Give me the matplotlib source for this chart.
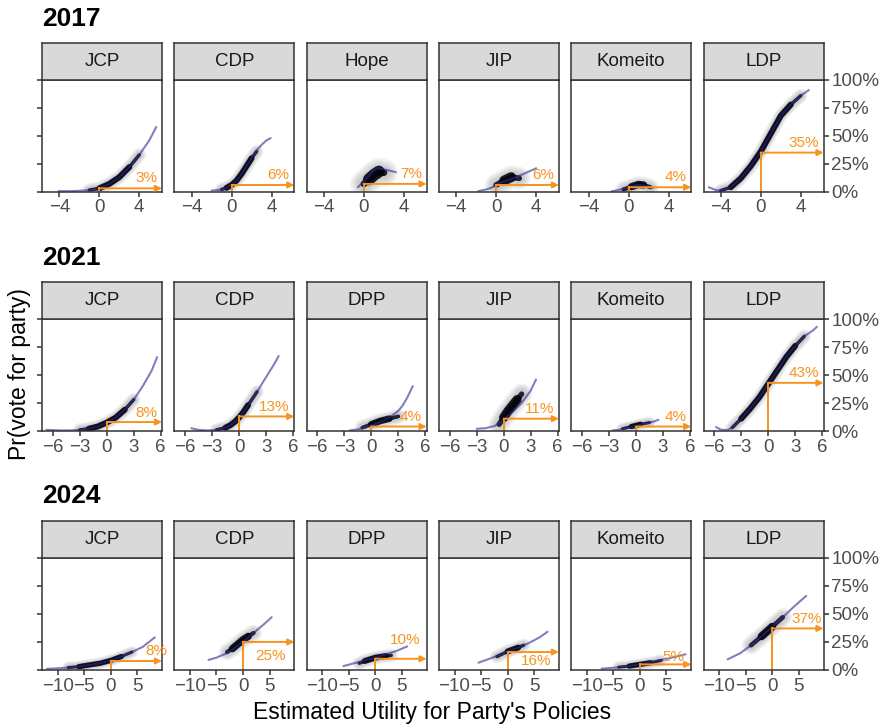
import numpy as np
import matplotlib
matplotlib.use('Agg')
import matplotlib.pyplot as plt

plt.rcParams['font.family'] = ['Liberation Sans', 'DejaVu Sans']

# ---- data ----
years = ['2017', '2021', '2024']

parties_2017 = ['JCP', 'CDP', 'Hope', 'JIP', 'Komeito', 'LDP']
parties_2021 = ['JCP', 'CDP', 'DPP', 'JIP', 'Komeito', 'LDP']
parties_2024 = ['JCP', 'CDP', 'DPP', 'JIP', 'Komeito', 'LDP']

# share voting for party at utility 0 (orange marker)
pct_2017 = [3, 6, 7, 6, 4, 35]
pct_2021 = [8, 13, 4, 11, 4, 43]
pct_2024 = [8, 25, 10, 16, 5, 37]

xticks_2017 = [-4, 0, 4]
xticks_2021 = [-6, -3, 0, 3, 6]
xticks_2024 = [-10, -5, 0, 5]

# smooth (blue) curves
curve_x_2017 = [
    [-4.1, -3, -2, -1, 0, 1, 2, 3, 4, 5, 5.7],
    [-2, -1, -0.5, 0, 0.5, 1, 1.5, 2, 2.5, 3, 3.5, 3.9],
    [-0.6, 0, 0.5, 1, 1.3, 2, 2.5, 3.2],
    [-1.8, -1, -0.5, 0, 1, 2, 3, 4],
    [-1.7, -1, 0, 0.5, 1, 1.5, 2, 2.5],
    [-5.2, -4.5, -4, -3, -2, -1, 0, 1, 2, 3, 4, 4.8],
]
curve_y_2017 = [
    [0.005, 0.005, 0.008, 0.015, 0.03, 0.07, 0.13, 0.22, 0.33, 0.46, 0.58],
    [0.01, 0.02, 0.035, 0.06, 0.1, 0.16, 0.23, 0.3, 0.37, 0.42, 0.46, 0.48],
    [0.04, 0.09, 0.14, 0.19, 0.21, 0.2, 0.19, 0.175],
    [0.005, 0.02, 0.035, 0.06, 0.1, 0.13, 0.17, 0.21],
    [0.003, 0.015, 0.04, 0.055, 0.06, 0.055, 0.045, 0.035],
    [0.04, 0.015, 0.01, 0.04, 0.12, 0.23, 0.36, 0.52, 0.68, 0.78, 0.86, 0.91],
]
curve_x_2021 = [
    [-6.7, -5, -4, -3, -2, -1, 0, 1, 2, 3, 4, 5, 5.6],
    [-5.3, -4.5, -3.5, -2.5, -1.5, -1, -0.5, 0, 0.5, 1, 2, 3, 4, 4.4],
    [-2.4, -1.5, -1, 0, 1, 2, 3, 3.5, 4, 4.6],
    [-3, -2, -1, 0, 1, 2, 3, 3.6],
    [-2.6, -2, -1, 0, 1, 2, 2.5],
    [-5.8, -5.2, -4.5, -4, -3, -2, -1, 0, 1, 2, 3, 4, 5, 5.4],
]
curve_y_2021 = [
    [0.01, 0.005, 0.005, 0.01, 0.02, 0.04, 0.075, 0.12, 0.19, 0.28, 0.40, 0.54, 0.66],
    [0.025, 0.01, 0.005, 0.01, 0.03, 0.05, 0.08, 0.12, 0.17, 0.23, 0.35, 0.48, 0.61, 0.67],
    [0.005, 0.015, 0.025, 0.05, 0.08, 0.12, 0.18, 0.23, 0.3, 0.4],
    [0.02, 0.025, 0.045, 0.1, 0.17, 0.25, 0.36, 0.46],
    [0.005, 0.01, 0.025, 0.045, 0.065, 0.085, 0.1],
    [0.035, 0.01, 0.01, 0.03, 0.11, 0.2, 0.3, 0.42, 0.54, 0.66, 0.76, 0.845, 0.9, 0.93],
]
curve_x_2024 = [
    [-12, -10, -8, -6, -4, -2, 0, 2, 4, 6, 8.3],
    [-6.5, -5, -4, -3, -2, -1, 0, 1, 2, 3, 4, 5.4],
    [-6, -4, -2, 0, 2, 4, 6],
    [-5.5, -4, -2, 0, 2, 4, 6, 7.5],
    [-7.2, -5, -3, 0, 3, 6, 8.6],
    [-8.4, -6, -4, -2, 0, 2, 4, 6.4],
]
curve_y_2024 = [
    [0.01, 0.015, 0.022, 0.03, 0.045, 0.06, 0.085, 0.12, 0.16, 0.205, 0.29],
    [0.09, 0.11, 0.13, 0.15, 0.18, 0.22, 0.255, 0.29, 0.33, 0.37, 0.41, 0.47],
    [0.035, 0.06, 0.085, 0.11, 0.14, 0.17, 0.21],
    [0.065, 0.09, 0.125, 0.165, 0.2, 0.24, 0.29, 0.34],
    [0.012, 0.02, 0.03, 0.05, 0.08, 0.11, 0.14],
    [0.095, 0.15, 0.22, 0.3, 0.385, 0.47, 0.56, 0.66],
]

# centre lines of the dense respondent clouds
cloud_x_2017 = [
    [-1, 0, 1, 2, 3, 4],
    [-1, -0.5, 0, 0.5, 1, 1.5, 2, 2.5],
    [0, 0.5, 1, 1.5, 2],
    [0, 0.8, 1.5, 2.3],
    [-0.5, 0.3, 1, 1.5, 2.2],
    [-4, -3, -2, -1, 0, 1, 2, 3, 4],
]
cloud_y_2017 = [
    [0.015, 0.03, 0.07, 0.13, 0.22, 0.33],
    [0.02, 0.035, 0.06, 0.1, 0.16, 0.23, 0.3, 0.36],
    [0.07, 0.11, 0.15, 0.18, 0.17],
    [0.06, 0.1, 0.13, 0.12],
    [0.02, 0.045, 0.065, 0.06, 0.04],
    [0.01, 0.04, 0.12, 0.23, 0.36, 0.52, 0.68, 0.78, 0.86],
]
cloud_x_2021 = [
    [-3, -2, -1, 0, 1, 2, 3],
    [-2.5, -1.5, -1, -0.5, 0, 0.5, 1, 2],
    [-1, 0, 1, 2, 3],
    [-0.5, 0, 0.5, 1, 1.5, 2],
    [-1.5, -0.5, 0.5, 1.5],
    [-4, -3, -2, -1, 0, 1, 2, 3, 4],
]
cloud_y_2021 = [
    [0.01, 0.02, 0.04, 0.075, 0.12, 0.19, 0.28],
    [0.01, 0.03, 0.05, 0.08, 0.12, 0.17, 0.23, 0.35],
    [0.03, 0.06, 0.09, 0.11, 0.13],
    [0.06, 0.12, 0.18, 0.23, 0.28, 0.33],
    [0.02, 0.04, 0.06, 0.075],
    [0.03, 0.11, 0.2, 0.3, 0.42, 0.54, 0.66, 0.76, 0.845],
]
cloud_x_2024 = [
    [-8, -6, -4, -2, 0, 2, 4],
    [-3, -2, -1, 0, 1, 2],
    [-3, -2, 0, 2, 3],
    [-2, 0, 2, 3],
    [-4, -2, 0, 2, 4],
    [-4, -2, 0, 2],
]
cloud_y_2024 = [
    [0.022, 0.03, 0.045, 0.06, 0.085, 0.12, 0.16],
    [0.16, 0.19, 0.23, 0.27, 0.3, 0.33],
    [0.06, 0.08, 0.11, 0.125, 0.13],
    [0.12, 0.165, 0.2, 0.22],
    [0.025, 0.035, 0.05, 0.065, 0.085],
    [0.22, 0.3, 0.385, 0.47],
]

# ---- layout / style ----
W, H = 888, 728
xlims = [(-5.73, 6.27), (-7.19, 6.14), (-12.94, 9.66)]
strip_top = [43.3, 282.3, 520.7]
panel_top = [80, 319, 557.7]
panel_bot = [191.7, 431, 670]
year_base = [26, 265, 503]
lefts = [42 + 132.3 * i for i in range(6)]
pw = 120
# label vertical offsets (data units) and horizontal nudge (points)
label_dy = [[0.09] * 6, [0.085] * 6, [0.085, -0.125, 0.17, -0.08, 0.07, 0.08]]
label_dx = [[-3.5] * 6, [-3.5] * 6, [4, -6, -4.5, -5.5, -5, -1]]
cloud_w = [[4.5, 4.5, 9, 7.5, 5.5, 4.5], [4.5, 4.5, 5, 7, 4, 4.5], [4, 5.5, 4.5, 4.5, 4, 6]]

orange = '#F7931E'
blue = '#2A2A9A'
dark = '#333333'

rows = [
    (parties_2017, pct_2017, xticks_2017, curve_x_2017, curve_y_2017, cloud_x_2017, cloud_y_2017),
    (parties_2021, pct_2021, xticks_2021, curve_x_2021, curve_y_2021, cloud_x_2021, cloud_y_2021),
    (parties_2024, pct_2024, xticks_2024, curve_x_2024, curve_y_2024, cloud_x_2024, cloud_y_2024),
]

fig = plt.figure(figsize=(W / 100, H / 100), dpi=100)


def box(l, t, w, h):
    return [l / W, 1 - (t + h) / H, w / W, h / H]


for r, (parties, pct, xticks, cxs, cys, kxs, kys) in enumerate(rows):
    fig.text(42 / W, 1 - year_base[r] / H, years[r], fontsize=19, fontweight='bold',
             ha='left', va='baseline')
    for i in range(6):
        ph = panel_bot[r] - panel_top[r]
        ax = fig.add_axes(box(lefts[i], panel_top[r], pw, ph))
        xmin, xmax = xlims[r]
        ax.set_xlim(xmin, xmax)
        ax.set_ylim(0, 1)

        # respondent cloud: soft halo, thin full-length band, thicker middle
        cw = cloud_w[r][i]
        kx, ky = kxs[i], kys[i]
        for k in range(4):
            ax.plot(kx, ky, color='black', lw=cw * (2.2 - 0.35 * k), alpha=0.05,
                    solid_capstyle='round', solid_joinstyle='round')
        ax.plot(kx, ky, color='#050512', lw=cw * 0.55, alpha=0.85,
                solid_capstyle='round', solid_joinstyle='round')
        mid = slice(1, -1) if len(kx) > 3 else slice(1, None)
        ax.plot(kx[mid], ky[mid], color='#02020A', lw=cw * 0.95, alpha=0.9,
                solid_capstyle='round', solid_joinstyle='round')
        # smooth curve
        ax.plot(cxs[i], cys[i], color=blue, lw=1.5, alpha=0.6,
                solid_capstyle='round')

        # orange marker at utility 0
        p = pct[i] / 100
        ax.plot([0, 0], [0, p], color=orange, lw=1.4, clip_on=False)
        ax.annotate('', xy=(xmax, p), xytext=(0, p),
                    arrowprops=dict(arrowstyle='-|>', color=orange, lw=1.4,
                                    mutation_scale=9, shrinkA=0, shrinkB=0),
                    annotation_clip=False)
        ax.annotate(f'{pct[i]}%', xy=(1, p + label_dy[r][i]),
                    xycoords=('axes fraction', 'data'),
                    xytext=(label_dx[r][i], 0), textcoords='offset points',
                    ha='right', va='center', color=orange, fontsize=11)

        for s in ax.spines.values():
            s.set_color(dark)
            s.set_linewidth(1.1)
        ax.set_xticks(xticks)
        ax.tick_params(axis='x', length=3.6, width=1.1, color=dark,
                       labelsize=13.5, labelcolor='#4D4D4D', pad=2)
        ax.set_yticks([0, 0.25, 0.5, 0.75, 1])
        if i == 0:
            ax.tick_params(axis='y', length=3.6, width=1.1, color=dark,
                           labelleft=False)
        elif i == 5:
            ax.yaxis.tick_right()
            ax.set_yticklabels(['0%', '25%', '50%', '75%', '100%'])
            ax.tick_params(axis='y', length=3.6, width=1.1, color=dark,
                           labelsize=13.5, labelcolor='#4D4D4D', pad=2)
        else:
            ax.tick_params(axis='y', left=False, labelleft=False)

        # facet strip
        sa = fig.add_axes(box(lefts[i], strip_top[r], pw, panel_top[r] - strip_top[r]))
        sa.set_facecolor('#D9D9D9')
        sa.set_xticks([])
        sa.set_yticks([])
        for s in sa.spines.values():
            s.set_color(dark)
            s.set_linewidth(1.1)
        sa.text(0.5, 0.5, parties[i], ha='center', va='center', fontsize=13.5,
                color='#1A1A1A', transform=sa.transAxes)

fig.text(432 / W, 1 - 712 / H, "Estimated Utility for Party's Policies",
         ha='center', va='center', fontsize=16.5)
fig.text(20 / W, 1 - 374 / H, 'Pr(vote for party)', rotation=90,
         ha='center', va='center', fontsize=16.5)

fig.savefig('out.png', dpi=100)
